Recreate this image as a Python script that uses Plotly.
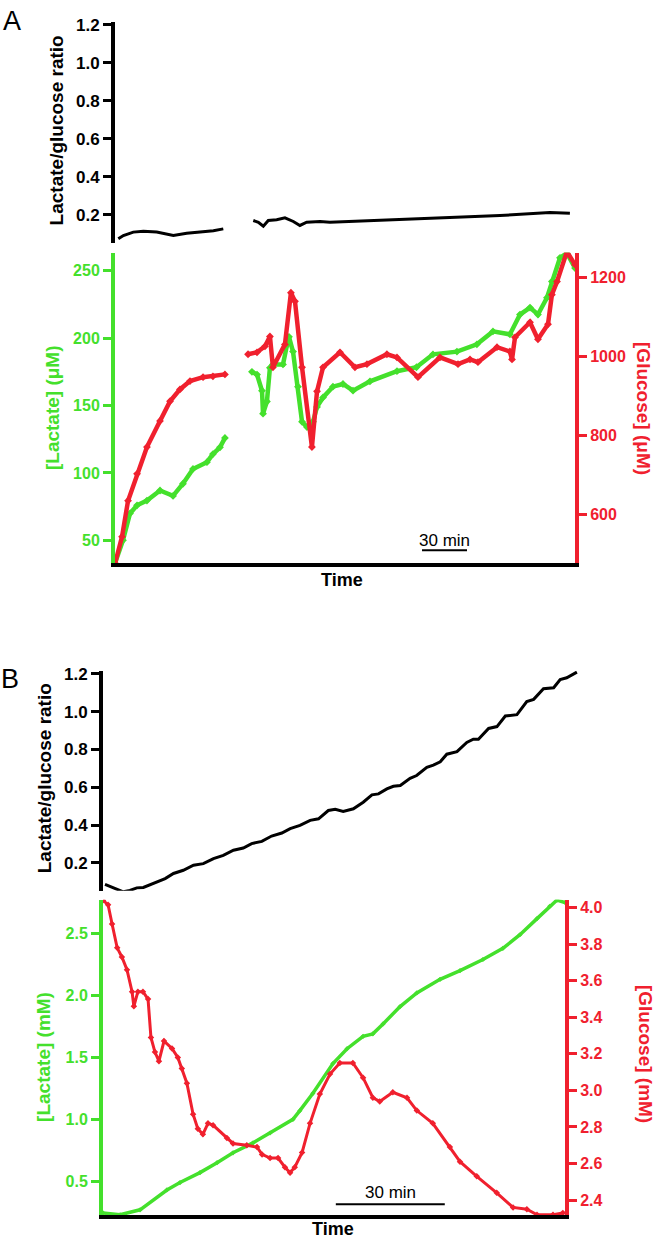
import plotly.graph_objects as go

# ---------------- DATA ----------------
# Panel A (time in minutes)
a_ratio_t = [2.2, 5.6, 12.2, 18.9, 27.8, 38.9, 47.8, 56.7, 65.6, 72.2, None,
             92.2, 95.6, 98.9, 102.2, 107.8, 113.3, 118.9, 123.3, 127.8, 136.7, 143.3,
             156.7, 190.0, 223.3, 256.7, 290.0, 303.3]
a_ratio = [0.074, 0.091, 0.109, 0.114, 0.109, 0.091, 0.103, 0.109, 0.116, 0.126, None,
           0.170, 0.161, 0.140, 0.170, 0.174, 0.184, 0.165, 0.144, 0.161, 0.165, 0.161,
           0.165, 0.175, 0.186, 0.196, 0.212, 0.208]

a_lac_t = [0, 5.3, 10, 14.7, 21.3, 30, 38.7, 45.3, 52, 61.3, 65.3, 70, 73.3, None,
           91.3, 94.7, 98, 98.7, 101.3, 103.3, 105.3, 112, 114.7, 116, 118.7, 122, 124.7,
           128, 132, 134.7, 138.7, 145.3, 152, 158.7, 170, 188, 201, 212, 228, 241.3,
           252, 263.3, 270, 276.7, 282, 288, 291.3, 296.7, 301.3, 306.7]
a_lac = [33, 50, 70, 76, 79.5, 87, 83, 92, 103, 108, 114, 119, 126, None,
         175, 173, 161, 144, 153, 178, 180.5, 180.5, 195, 201, 190, 164, 138,
         134, 138, 149, 156, 164, 166, 161, 168, 175.5, 178.4, 188, 190, 195.4,
         205, 202.8, 217.5, 222.7, 217.5, 230, 242, 259.6, 263, 252]

a_glu_t = [0, 4.7, 8.7, 14.7, 21.3, 30, 36.7, 43.3, 50, 58.7, 65.3, 73.3, None,
           88.7, 94.7, 100, 103.3, 105.3, 113.3, 117.3, 120, 124.7, 131.3, 134.7, 138.7,
           150, 160, 168, 181.3, 188, 202, 216.7, 228.7, 236.7, 242, 254.7, 263.3, 264.7,
           266.7, 276.7, 282, 288.7, 291.3, 294.7, 301.3, 306.7]
a_glu = [476, 544, 635, 703, 771, 837, 887, 917, 938, 948, 950, 955, None,
         1006, 1011, 1026, 1051, 973, 1031, 1162, 1140, 973, 771, 912, 973,
         1011, 973, 981, 1006, 998, 948, 998, 981, 993, 986, 1024, 1013, 993,
         1049, 1087, 1044, 1082, 1157, 1190, 1266, 1233]

# Panel B (time in minutes)
b_ratio_t = [0.55, 5.6, 7.4, 9.3, 11.1, 13.9, 17.1, 19.4, 22.1, 24.9, 27.6, 30.4, 33.1,
             35.9, 38.6, 40.9, 43.7, 46.4, 49.2, 51.5, 54.2, 57.0, 59.3, 62.0, 63.9, 66.1,
             68.9, 71.6, 74.0, 75.8, 78.1, 79.9, 81.8, 84.5, 86.3, 89.1, 90.9, 92.8, 94.6,
             97.4, 100.1, 101.9, 103.3, 106.1, 108.4, 110.7, 112.9, 113.9, 116.6, 118.5,
             121.2, 124.0, 125.8, 127.6, 130.4]
b_ratio = [0.086, 0.047, 0.054, 0.068, 0.070, 0.091, 0.117, 0.144, 0.161, 0.188, 0.196,
           0.223, 0.240, 0.267, 0.279, 0.302, 0.314, 0.342, 0.358, 0.381, 0.398, 0.425,
           0.433, 0.477, 0.483, 0.472, 0.486, 0.521, 0.560, 0.565, 0.591, 0.605, 0.609,
           0.647, 0.662, 0.705, 0.717, 0.735, 0.775, 0.788, 0.837, 0.854, 0.854, 0.911,
           0.921, 0.977, 0.984, 0.984, 1.053, 1.065, 1.121, 1.126, 1.170, 1.179, 1.209]

b_lac_t = [0, 4.7, 10.2, 17.6, 21.2, 26.7, 31.4, 35.8, 41.3, 46, 52.3, 54.2, 57.8, 63.3,
           67.2, 71.6, 74.3, 77.1, 81.8, 86.4, 92.8, 98.3, 104.6, 110.1, 114.8, 119.5,
           123, 125, 127.2]
b_lac = [0.245, 0.23, 0.27, 0.43, 0.49, 0.57, 0.65, 0.73, 0.81, 0.89, 1.0, 1.07, 1.21,
         1.45, 1.57, 1.67, 1.69, 1.77, 1.91, 2.02, 2.13, 2.20, 2.29, 2.38, 2.49, 2.62,
         2.72, 2.77, 2.75]

b_glu_t = [0, 1.4, 2.5, 3.9, 5.2, 6.6, 8, 8.5, 9.6, 11, 12.4, 13.2, 14.3, 15.4, 16.8, 19,
           20.6, 21.7, 23.1, 24.8, 26.1, 27.5, 28.9, 30.3, 34.1, 35.8, 39.6, 42.4, 43.8,
           46, 48.2, 50.1, 51.5, 52.8, 54.8, 57, 59.7, 62.5, 65.2, 68.8, 71.6, 74.3, 76.2,
           79.8, 83.7, 86.4, 90.8, 95.5, 98.3, 102.9, 108.4, 112.9, 116.7, 119.5, 123.9,
           126.6]
b_glu = [4.04, 4.016, 3.91, 3.78, 3.73, 3.66, 3.54, 3.46, 3.54, 3.54, 3.50, 3.29, 3.21,
         3.16, 3.27, 3.23, 3.18, 3.12, 3.04, 2.87, 2.79, 2.76, 2.82, 2.81, 2.74, 2.71,
         2.70, 2.69, 2.65, 2.63, 2.63, 2.58, 2.55, 2.58, 2.66, 2.82, 2.98, 3.09, 3.15,
         3.15, 3.07, 2.96, 2.94, 2.99, 2.96, 2.89, 2.82, 2.69, 2.61, 2.53, 2.44, 2.36,
         2.35, 2.32, 2.32, 2.33]

ratio_ticks = [0.2, 0.4, 0.6, 0.8, 1.0, 1.2]
a_lac_ticks = [50, 100, 150, 200, 250]
a_glu_ticks = [600, 800, 1000, 1200]
b_lac_ticks = [0.5, 1.0, 1.5, 2.0, 2.5]
b_glu_ticks = [2.4, 2.6, 2.8, 3.0, 3.2, 3.4, 3.6, 3.8, 4.0]
SCALE_MIN = 30

# ---------------- STYLE ----------------
W, H = 657, 1241
GREEN = "#44e02c"
RED = "#f0202e"
FONT = "Liberation Sans, Arial, sans-serif"


def px(x):
    return x / W


def py(y):
    return 1 - y / H


fig = go.Figure()

fig.add_trace(go.Scatter(x=a_ratio_t, y=a_ratio, xaxis="x", yaxis="y", mode="lines",
                         line=dict(color="black", width=3), connectgaps=False))
fig.add_trace(go.Scatter(x=a_lac_t, y=a_lac, xaxis="x2", yaxis="y2", mode="lines+markers",
                         line=dict(color=GREEN, width=4.5), marker=dict(size=6, symbol="diamond", color=GREEN),
                         connectgaps=False))
fig.add_trace(go.Scatter(x=a_glu_t, y=a_glu, xaxis="x2", yaxis="y3", mode="lines+markers",
                         line=dict(color=RED, width=4.5), marker=dict(size=6, symbol="diamond", color=RED),
                         connectgaps=False))
fig.add_trace(go.Scatter(x=b_ratio_t, y=b_ratio, xaxis="x3", yaxis="y4", mode="lines",
                         line=dict(color="black", width=3)))
fig.add_trace(go.Scatter(x=b_glu_t, y=b_glu, xaxis="x4", yaxis="y6", mode="lines+markers",
                         line=dict(color=RED, width=3), marker=dict(size=5, symbol="diamond", color=RED)))
fig.add_trace(go.Scatter(x=b_lac_t, y=b_lac, xaxis="x4", yaxis="y5", mode="lines+markers",
                         line=dict(color=GREEN, width=3.5), marker=dict(size=4, symbol="diamond", color=GREEN)))


def yax(color, rng, ticks, fmt, domain=None, side="left", anchor=None, overlaying=None, size=16):
    d = dict(range=rng, tickvals=ticks, ticktext=[fmt.format(t) for t in ticks],
             showline=True, linecolor=color, linewidth=4, ticks="outside", ticklen=8,
             tickwidth=3, tickcolor=color, showgrid=False, zeroline=False, side=side,
             tickfont=dict(family=FONT, size=size, color=color, weight="bold"), anchor=anchor)
    if domain is not None:
        d["domain"] = domain
    if overlaying:
        d["overlaying"] = overlaying
    return d


A_X = [px(115), px(575)]
B_X_R = [px(103), px(578)]
B_X = [px(103), px(565)]
A_RANGE = [0, 306.7]
B_RANGE = [0, 127.2]
B_RANGE_R = [0, 130.7]

fig.update_layout(
    width=W, height=H, autosize=False,
    margin=dict(l=0, r=0, t=0, b=0),
    paper_bgcolor="white", plot_bgcolor="white",
    showlegend=False,
    xaxis=dict(domain=A_X, range=A_RANGE, visible=False, anchor="y"),
    yaxis=yax("black", [0.054, 1.216], ratio_ticks, "{:.1f}", domain=[py(237.7), py(16)], anchor="x", size=17),
    xaxis2=dict(domain=A_X, range=A_RANGE, showline=True, linecolor="black", linewidth=4,
                showticklabels=False, ticks="", showgrid=False, zeroline=False, anchor="y2"),
    yaxis2=yax(GREEN, [33, 263.3], a_lac_ticks, "{:d}", domain=[py(560), py(248)], anchor="x2"),
    yaxis3=yax(RED, [476.5, 1263], a_glu_ticks, "{:d}", side="right", anchor="x2", overlaying="y2"),
    xaxis3=dict(domain=B_X_R, range=B_RANGE_R, visible=False, anchor="y4"),
    yaxis4=yax("black", [0.053, 1.216], ratio_ticks, "{:.1f}", domain=[py(889), py(668)], anchor="x3", size=17),
    xaxis4=dict(domain=B_X, range=B_RANGE, showline=True, linecolor="black", linewidth=4,
                showticklabels=False, ticks="", showgrid=False, zeroline=False, anchor="y5"),
    yaxis5=yax(GREEN, [0.227, 2.773], b_lac_ticks, "{:.1f}", domain=[py(1215), py(898)], anchor="x4"),
    yaxis6=yax(RED, [2.318, 4.0435], b_glu_ticks, "{:.1f}", side="right", anchor="x4", overlaying="y5"),
)

ann = []


def label(text, x, y, color="black", size=18, angle=0, bold=True):
    ann.append(dict(text=text, x=px(x), y=py(y), xref="paper", yref="paper", showarrow=False,
                    textangle=angle, xanchor="center", yanchor="middle",
                    font=dict(family=FONT, size=size, color=color, weight="bold" if bold else "normal")))


label("A", 12, 15, size=27, bold=False)
label("B", 10, 676, size=27, bold=False)
label("Lactate/glucose ratio", 56, 125, angle=-90, size=19)
label("[Lactate] (μM)", 52, 404, color=GREEN, angle=-90, size=19)
label("[Glucose] (μM)", 644, 404, color=RED, angle=90, size=19)
label("Time", 342, 577, size=18)
label("Lactate/glucose ratio", 44, 776, angle=-90, size=19)
label("[Lactate] (mM)", 44, 1056, color=GREEN, angle=-90, size=19)
label("[Glucose] (mM)", 645, 1053, color=RED, angle=90, size=19)
label("Time", 333, 1229, size=18)

# scale bars
a_bar0 = 204.7
b_bar0 = 64.1
ann.append(dict(text=f"{SCALE_MIN} min", x=a_bar0 + SCALE_MIN / 2, y=py(537), xref="x2", yref="paper",
                showarrow=False, xanchor="center", yanchor="middle",
                font=dict(family=FONT, size=17, color="black")))
ann.append(dict(text=f"{SCALE_MIN} min", x=b_bar0 + SCALE_MIN / 2, y=py(1192), xref="x4", yref="paper",
                showarrow=False, xanchor="center", yanchor="middle",
                font=dict(family=FONT, size=17, color="black")))
fig.update_layout(annotations=ann)
fig.add_shape(type="line", xref="x2", yref="paper", x0=a_bar0, x1=a_bar0 + SCALE_MIN,
              y0=py(547), y1=py(547), line=dict(color="black", width=2))
fig.add_shape(type="line", xref="x4", yref="paper", x0=b_bar0, x1=b_bar0 + SCALE_MIN,
              y0=py(1204), y1=py(1204), line=dict(color="black", width=2))

fig.write_html("out.html", config={"displayModeBar": False},
               post_script="document.body.style.margin='0';")
